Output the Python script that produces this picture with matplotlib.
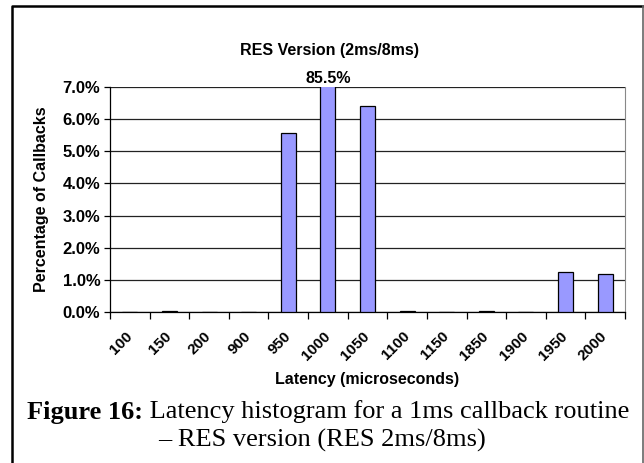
import numpy as np
import matplotlib
matplotlib.use("Agg")
import matplotlib.pyplot as plt
from matplotlib.lines import Line2D

# latency buckets (microseconds) and share of callbacks (%)
latency = ["100", "150", "200", "900", "950", "1000", "1050",
           "1100", "1150", "1850", "1900", "1950", "2000"]
pct = [0.01, 0.04, 0.01, 0.01, 5.57, 85.5, 6.42,
       0.03, 0.01, 0.04, 0.01, 1.23, 1.17]
yticks = [0.0, 1.0, 2.0, 3.0, 4.0, 5.0, 6.0, 7.0]

plt.rcParams['font.family'] = ['Liberation Sans', 'DejaVu Sans']

fig = plt.figure(figsize=(6.44, 4.63), dpi=100)
ax = fig.add_axes([110 / 644, 1 - 312 / 463, 515 / 644, 225 / 463])

x = np.arange(len(latency))
ax.bar(x, pct, width=0.38, color="#9999ff", edgecolor="black", linewidth=0.9, zorder=3)
ax.set_ylim(0, 7.0)
ax.set_xlim(-0.5, len(latency) - 0.5)

# peak bar is clipped, show its value on top
imax = int(np.argmax(pct))
ax.text(x[imax], 7.03, "%.1f%%" % pct[imax], ha="center", va="bottom",
        fontsize=11.5, fontweight="bold")

ax.set_yticks(yticks)
ax.set_yticklabels(["%.1f%%" % v for v in yticks], fontsize=12, fontweight="bold")
ax.yaxis.grid(True, color="#222222", linewidth=0.9, zorder=0)
ax.tick_params(axis="y", length=4, width=0.9, pad=3)

# ticks sit between categories, labels at the centers
ax.set_xticks(np.arange(len(latency) + 1) - 0.5)
ax.set_xticklabels([])
ax.set_xticks(x, minor=True)
ax.set_xticklabels(latency, minor=True, rotation=45, ha="right", va="center",
                   rotation_mode="anchor", fontsize=11, fontweight="bold")
ax.tick_params(axis="x", which="major", length=5, width=0.9, direction="out")
ax.tick_params(axis="x", which="minor", length=0, pad=16)

ax.spines["top"].set_visible(False)
ax.spines["right"].set_color("#888888")
ax.spines["left"].set_linewidth(0.9)
ax.spines["bottom"].set_linewidth(0.9)

fig.text(329 / 644, 1 - 50 / 463, "RES Version (2ms/8ms)", ha="center", va="center",
         fontsize=11.5, fontweight="bold")
ax.set_xlabel("Latency (microseconds)", fontsize=11.5, fontweight="bold", va="center")
ax.xaxis.set_label_coords(0.5, (312 - 380) / 225)
ax.set_ylabel("Percentage of Callbacks", fontsize=11.5, fontweight="bold", va="center")
ax.yaxis.set_label_coords((42 - 110) / 515, 0.5)

# caption below the chart, bold lead-in then plain text
cap1 = [("Figure 16:", "bold"), (" Latency histogram for a 1ms callback routine", "normal")]
fig.canvas.draw()
r = fig.canvas.get_renderer()
widths = []
for s, w in cap1:
    t = fig.text(0, 0, s, fontsize=19, family="Liberation Serif", fontweight=w)
    widths.append(t.get_window_extent(r).width)
    t.remove()
x0 = (fig.bbox.width - sum(widths)) / 2 + 6
for (s, w), wd in zip(cap1, widths):
    fig.text(x0 / fig.bbox.width, 1 - 412 / 463, s, fontsize=19, family="Liberation Serif",
             fontweight=w, ha="left", va="center")
    x0 += wd
fig.text(322 / 644, 1 - 440 / 463, "\u2013 RES version (RES 2ms/8ms)", fontsize=19,
         family="Liberation Serif", ha="center", va="center")

# outer frame (open at the bottom)
fig.lines.append(Line2D([12 / 644, 12 / 644, 643 / 644], [0, 1 - 6 / 463, 1 - 6 / 463],
                        transform=fig.transFigure, color="black", linewidth=1.8))
fig.lines.append(Line2D([643 / 644, 643 / 644], [1 - 6 / 463, 0],
                        transform=fig.transFigure, color="#666666", linewidth=1.2))

fig.savefig("out.png", dpi=100)
